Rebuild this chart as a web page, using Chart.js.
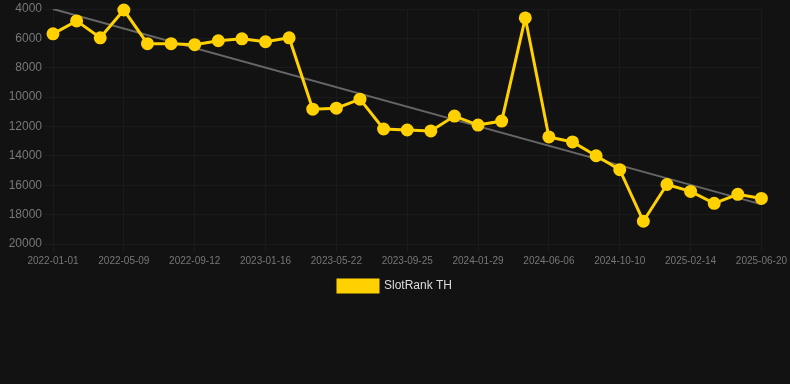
<!DOCTYPE html>
<html lang="en">
<head>
<meta charset="UTF-8">
<title>SlotRank TH</title>
<script src="https://cdn.jsdelivr.net/npm/chart.js"></script>
<style>
  html, body { margin: 0; padding: 0; background: #121212; }
  #wrap { width: 790px; height: 302px; }
</style>
</head>
<body>
<div id="wrap"><canvas id="rankChart"></canvas></div>
<script>
    // dates of each rank sample
    const dates = [
        '2022-01-01', '2022-02-13', '2022-03-27', '2022-05-09', '2022-06-20', '2022-08-01',
        '2022-09-12', '2022-10-24', '2022-12-05', '2023-01-16', '2023-02-27', '2023-04-10',
        '2023-05-22', '2023-07-03', '2023-08-14', '2023-09-25', '2023-11-06', '2023-12-18',
        '2024-01-29', '2024-03-11', '2024-04-22', '2024-06-06', '2024-07-18', '2024-08-29',
        '2024-10-10', '2024-11-21', '2025-01-03', '2025-02-14', '2025-03-28', '2025-05-09',
        '2025-06-20'
    ];

    // rank values (lower is better, axis reversed)
    const ranks = [
        5690, 4810, 5960, 4070, 6360, 6360, 6430, 6160, 6030, 6230, 5960, 10820,
        10750, 10140, 12170, 12240, 12300, 11290, 11900, 11630, 4610, 12710,
        13050, 13990, 14940, 18450, 15950, 16420, 17230, 16620, 16900
    ];

    // trend line end points
    const trendStart = 4000;
    const trendEnd = 17300;

    const yTicks = { min: 4000, max: 20000, step: 2000 };

    new Chart(document.getElementById('rankChart'), {
        type: 'line',
        data: {
            labels: dates,
            datasets: [{
                label: 'SlotRank TH',
                data: ranks,
                borderColor: '#FFD100',
                backgroundColor: '#FFD100',
                borderWidth: 3,
                pointRadius: 5,
                pointHoverRadius: 6,
                tension: 0,
                clip: false
            }, {
                label: 'trend',
                data: [
                    { x: dates[0], y: trendStart },
                    { x: dates[dates.length - 1], y: trendEnd }
                ],
                borderColor: '#666666',
                borderWidth: 2,
                pointRadius: 0,
                tension: 0
            }]
        },
        options: {
            responsive: true,
            maintainAspectRatio: false,
            animation: false,
            plugins: {
                legend: {
                    position: 'bottom',
                    labels: {
                        color: '#dddddd',
                        font: { family: 'Liberation Sans', size: 12 },
                        boxWidth: 40,
                        boxHeight: 12,
                        filter: item => item.text !== 'trend'
                    }
                },
                tooltip: { enabled: false }
            },
            scales: {
                x: {
                    grid: { color: '#1b1b1b' },
                    border: { color: '#1b1b1b' },
                    ticks: {
                        color: '#777777',
                        font: { family: 'Liberation Sans', size: 10 },
                        maxRotation: 0,
                        autoSkip: true,
                        callback: function(value, index) {
                            return index % 3 === 0 ? dates[index] : null;
                        }
                    }
                },
                y: {
                    reverse: true,
                    min: yTicks.min,
                    max: yTicks.max,
                    afterFit: scale => { scale.width = 53; },
                    grid: { color: '#1b1b1b' },
                    border: { color: '#1b1b1b' },
                    ticks: {
                        stepSize: yTicks.step,
                        color: '#777777',
                        font: { family: 'Liberation Sans', size: 12, lineHeight: 0.7 },
                        callback: value => String(value)
                    }
                }
            }
        }
    });
</script>
</body>
</html>
